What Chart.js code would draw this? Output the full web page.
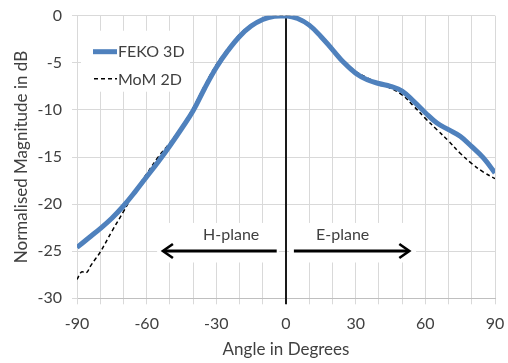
<!DOCTYPE html>
<html lang="en">
<head>
<meta charset="UTF-8">
<title>Normalised radiation pattern</title>
<script src="https://cdn.jsdelivr.net/npm/chart.js"></script>
<style>
  html, body { margin: 0; padding: 0; background: #ffffff; }
  #wrap { width: 508px; height: 363px; }
</style>
</head>
<body>
<div id="wrap"><canvas id="pattern"></canvas></div>
<script>
// FEKO 3D result, angle in degrees / magnitude in dB
const fekoAngles = [-90, -85, -80, -75, -70, -65, -60, -55, -50, -45, -40, -35, -30, -25, -20, -15, -10, -5, 0,
                    5, 10, 15, 20, 25, 30, 35, 40, 45, 50, 55, 60, 65, 70, 75, 80, 85, 90];
const fekoDb = [-24.6, -23.6, -22.6, -21.5, -20.2, -18.7, -17.1, -15.5, -13.8, -12.0, -10.1, -7.7, -5.5, -3.7, -2.2, -1.1, -0.4, -0.05, 0,
                -0.3, -1.0, -2.2, -3.6, -5.0, -6.1, -6.8, -7.2, -7.5, -8.0, -9.1, -10.3, -11.4, -12.1, -12.8, -13.9, -15.1, -16.7];

// 2D method of moments result
const momAngles = [-90, -88, -86, -84, -82, -80, -75, -70, -65, -60, -55, -50, -45, -40, -35, -30, -25, -20, -15, -10, -5, 0,
                   5, 10, 15, 20, 25, 30, 35, 40, 45, 50, 55, 60, 65, 70, 75, 80, 85, 90];
const momDb = [-28.0, -27.2, -27.3, -26.5, -25.8, -25.1, -22.9, -20.8, -18.6, -16.8, -15.0, -13.5, -11.8, -9.8, -7.4, -5.2, -3.5, -2.0, -1.0, -0.35, -0.05, 0,
               -0.2, -0.9, -2.1, -3.5, -4.8, -5.9, -6.6, -7.2, -7.7, -8.4, -9.6, -10.9, -12.1, -13.3, -14.6, -15.7, -16.6, -17.3];

const xLabelStep = 30;

// plane labels with their arrows (angle span at the -25 dB level)
const planes = [
  { text: 'H-plane', textAt: -23.6, from: -4, to: -53, box: [-55.5, -3.1] },
  { text: 'E-plane', textAt: 24.4, from: 3.4, to: 53.1, box: [1.3, 56] }
];
const planeLevel = -25;

const TEXT = '#404040';
const GRID = '#d9d9d9';
const FONT = 'Lato, "Liberation Sans", sans-serif';

const toPoints = (xs, ys) => xs.map((v, i) => ({ x: v, y: ys[i] }));

const overlays = {
  id: 'overlays',
  beforeDatasetsDraw(chart) {
    const { ctx, chartArea, scales: { x, y } } = chart;
    ctx.save();
    ctx.fillStyle = '#ffffff';
    // white text boxes over the grid
    ctx.fillRect(chartArea.left + 4, chartArea.top + 15, 109, 61);
    planes.forEach(p => {
      const x0 = x.getPixelForValue(p.box[0]);
      const x1 = x.getPixelForValue(p.box[1]);
      ctx.fillRect(x0, y.getPixelForValue(-22.0), x1 - x0, y.getPixelForValue(-26.2) - y.getPixelForValue(-22.0));
    });
    // vertical axis crossing at 0 degrees
    const x0 = Math.round(x.getPixelForValue(0));
    ctx.strokeStyle = '#1a1a1a';
    ctx.lineWidth = 2;
    ctx.beginPath();
    ctx.moveTo(x0, chartArea.top);
    ctx.lineTo(x0, chartArea.bottom + 6);
    ctx.stroke();
    ctx.restore();
  },
  afterDatasetsDraw(chart) {
    const { ctx, chartArea, scales: { x, y } } = chart;
    ctx.save();
    ctx.font = '16px ' + FONT;
    ctx.textBaseline = 'middle';

    // legend
    const lx = chartArea.left;
    ctx.strokeStyle = '#4f81bd';
    ctx.lineWidth = 5;
    ctx.beginPath();
    ctx.moveTo(lx + 16, chartArea.top + 36);
    ctx.lineTo(lx + 40, chartArea.top + 36);
    ctx.stroke();
    ctx.strokeStyle = '#000000';
    ctx.lineWidth = 1.5;
    ctx.setLineDash([4, 3]);
    ctx.beginPath();
    ctx.moveTo(lx + 17, chartArea.top + 63);
    ctx.lineTo(lx + 40, chartArea.top + 63);
    ctx.stroke();
    ctx.setLineDash([]);
    ctx.fillStyle = TEXT;
    ctx.textAlign = 'left';
    ctx.fillText('FEKO 3D', lx + 41, chartArea.top + 36);
    ctx.fillText('MoM 2D', lx + 41, chartArea.top + 64);

    // plane labels and arrows
    const ay = Math.round(y.getPixelForValue(planeLevel));
    planes.forEach(p => {
      ctx.fillStyle = TEXT;
      ctx.textAlign = 'center';
      ctx.fillText(p.text, x.getPixelForValue(p.textAt), y.getPixelForValue(-23.3));
      const xa = x.getPixelForValue(p.from);
      const xb = x.getPixelForValue(p.to);
      const dir = Math.sign(xb - xa);
      ctx.strokeStyle = '#000000';
      ctx.lineWidth = 3;
      ctx.beginPath();
      ctx.moveTo(xa, ay);
      ctx.lineTo(xb - dir, ay);
      ctx.stroke();
      ctx.lineWidth = 2.6;
      ctx.beginPath();
      ctx.moveTo(xb - dir * 10, ay - 7);
      ctx.lineTo(xb, ay);
      ctx.lineTo(xb - dir * 10, ay + 7);
      ctx.stroke();
    });
    ctx.restore();
  }
};

Chart.defaults.font.family = FONT;
Chart.defaults.color = TEXT;

new Chart(document.getElementById('pattern'), {
  type: 'line',
  data: {
    datasets: [
      {
        label: 'FEKO 3D',
        data: toPoints(fekoAngles, fekoDb),
        borderColor: '#4f81bd',
        borderWidth: 5,
        pointRadius: 0,
        tension: 0.4
      },
      {
        label: 'MoM 2D',
        data: toPoints(momAngles, momDb),
        borderColor: '#000000',
        borderWidth: 1.5,
        borderDash: [4, 3],
        pointRadius: 0,
        tension: 0.4
      }
    ]
  },
  options: {
    responsive: true,
    maintainAspectRatio: false,
    animation: false,
    layout: { padding: { left: 0, right: 13, top: 15.7, bottom: 0 } },
    plugins: {
      legend: { display: false },
      tooltip: { enabled: false }
    },
    scales: {
      x: {
        type: 'linear',
        min: -90,
        max: 90,
        afterFit: s => { s.height = 64.7; s.paddingLeft = 0; s.paddingRight = 0; },
        ticks: {
          stepSize: 10,
          autoSkip: false,
          maxRotation: 0,
          padding: 10,
          font: { size: 16 },
          callback: v => (v % xLabelStep === 0 ? String(v) : '')
        },
        grid: { color: GRID, tickLength: 6, tickColor: GRID },
        border: { color: '#bfbfbf' },
        title: {
          display: true,
          text: 'Angle in Degrees',
          font: { size: 17 },
          padding: { top: 0, bottom: 2.8 }
        }
      },
      y: {
        min: -30,
        max: 0,
        afterFit: s => { s.width = 77; s.paddingTop = 0; s.paddingBottom = 0; },
        ticks: { stepSize: 5, padding: 10, font: { size: 16 } },
        grid: { color: GRID, tickLength: 5, tickColor: GRID },
        border: { color: GRID },
        title: {
          display: true,
          text: 'Normalised Magnitude in dB',
          font: { size: 17 },
          padding: { top: 11.8, bottom: 0 }
        }
      }
    }
  },
  plugins: [overlays]
});
</script>
</body>
</html>
